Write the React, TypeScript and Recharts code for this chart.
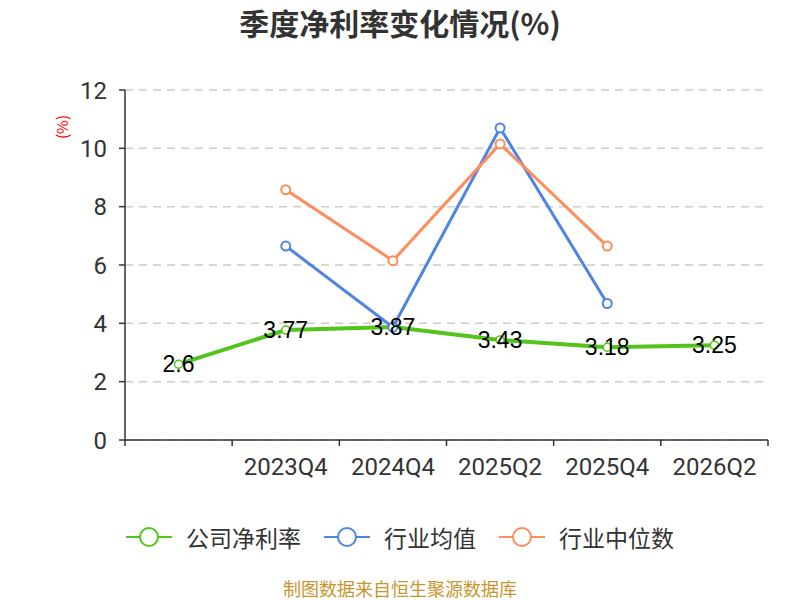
import React from 'react';
import { LineChart, Line, XAxis, YAxis, CartesianGrid, LabelList } from 'recharts';

// quarters (the first one carries no label in the source chart)
const quarters = ['', '2023Q4', '2024Q4', '2025Q2', '2025Q4', '2026Q2'];
const companyRate = [2.6, 3.77, 3.87, 3.43, 3.18, 3.25];
const industryAvg = [null, 6.65, 3.87, 10.7, 4.68, null];
const industryMedian = [null, 8.58, 6.15, 10.15, 6.65, null];
const yTicks = [0, 2, 4, 6, 8, 10, 12];

const GREEN = '#52c41a';
const BLUE = '#4e84e4';
const ORANGE = '#ff8c5a';
const AXIS = '#333';

const PLOT_LEFT = 125;
const PLOT_RIGHT = 768;
const PLOT_TOP = 90;
const PLOT_BOTTOM = 440;
const X_AXIS_H = 30;
const BAND = (PLOT_RIGHT - PLOT_LEFT) / quarters.length;

const data = quarters.map((q, i) => ({
  quarter: q,
  company: companyRate[i],
  avg: industryAvg[i],
  median: industryMedian[i],
}));

const series = [
  { key: 'company', name: '公司净利率', color: GREEN },
  { key: 'avg', name: '行业均值', color: BLUE },
  { key: 'median', name: '行业中位数', color: ORANGE },
];

const QuarterTick = (props: any) => {
  const { x, y, payload, index } = props;
  const left = x - BAND / 2;
  return (
    <g>
      <line x1={left} y1={y} x2={left} y2={y + 6} stroke={AXIS} strokeWidth={1.5} />
      {index === quarters.length - 1 && (
        <line x1={x + BAND / 2} y1={y} x2={x + BAND / 2} y2={y + 6} stroke={AXIS} strokeWidth={1.5} />
      )}
      <text x={x} y={y + 35} textAnchor="middle" fill={AXIS} fontSize={24} fontFamily="Roboto">
        {payload.value}
      </text>
    </g>
  );
};

const pointLabel = (props: any) => {
  const { x, y, value } = props;
  return (
    <text
      x={x}
      y={y}
      textAnchor="middle"
      dominantBaseline="central"
      fill="#000"
      fontSize={23}
      fontFamily="Liberation Sans"
    >
      {value}
    </text>
  );
};

const ChartLegend = () => (
  <div
    style={{
      position: 'absolute',
      top: 525,
      left: 0,
      width: 800,
      display: 'flex',
      justifyContent: 'center',
      alignItems: 'center',
      gap: 23,
    }}
  >
    {series.map((s) => (
      <div key={s.key} style={{ display: 'flex', alignItems: 'center' }}>
        <svg width={46} height={22} style={{ marginRight: 14 }}>
          <line x1={0} y1={11} x2={46} y2={11} stroke={s.color} strokeWidth={2} />
          <circle cx={23} cy={11} r={9} fill="#fff" stroke={s.color} strokeWidth={2} />
        </svg>
        <span style={{ fontSize: 23, color: AXIS, lineHeight: '24px' }}>{s.name}</span>
      </div>
    ))}
  </div>
);

export default function App() {
  return (
    <div
      style={{
        position: 'absolute',
        left: 0,
        top: 0,
        width: 800,
        height: 600,
        background: '#fff',
        fontFamily: 'Noto Sans CJK SC',
      }}
    >
      <div
        style={{
          position: 'absolute',
          top: 2,
          width: 800,
          textAlign: 'center',
          fontSize: 30,
          fontWeight: 700,
          color: AXIS,
          lineHeight: '40px',
        }}
      >
        季度净利率变化情况(%)
      </div>
      <div
        style={{
          position: 'absolute',
          left: 62,
          top: 127,
          transform: 'translate(-50%, -50%) rotate(-90deg)',
          fontSize: 15,
          color: '#ff0000',
          lineHeight: '16px',
          whiteSpace: 'nowrap',
        }}
      >
        (%)
      </div>
      <LineChart
        width={800}
        height={600}
        data={data}
        margin={{ top: PLOT_TOP, right: 800 - PLOT_RIGHT, bottom: 600 - PLOT_BOTTOM - X_AXIS_H, left: 0 }}
      >
        <CartesianGrid vertical={false} stroke="#ccc" strokeDasharray="8 6" strokeWidth={1.5} />
        <XAxis
          dataKey="quarter"
          scale="band"
          height={X_AXIS_H}
          interval={0}
          tickLine={false}
          tickSize={0}
          tickMargin={0}
          axisLine={{ stroke: AXIS, strokeWidth: 1.5 }}
          tick={<QuarterTick />}
        />
        <YAxis
          width={PLOT_LEFT}
          domain={[0, 12]}
          ticks={yTicks}
          interval={0}
          tickSize={6}
          tickMargin={12}
          axisLine={{ stroke: AXIS, strokeWidth: 1.5 }}
          tickLine={{ stroke: AXIS, strokeWidth: 1.5 }}
          tick={{ fill: AXIS, fontSize: 24, fontFamily: 'Roboto' }}
        />
        <Line
          dataKey="company"
          name="公司净利率"
          stroke={GREEN}
          strokeWidth={4}
          dot={{ r: 4, fill: '#fff', stroke: GREEN, strokeWidth: 1.5 }}
          isAnimationActive={false}
        >
          <LabelList dataKey="company" content={pointLabel} />
        </Line>
        <Line
          dataKey="avg"
          name="行业均值"
          stroke={BLUE}
          strokeWidth={3}
          dot={{ r: 4.5, fill: '#fff', stroke: BLUE, strokeWidth: 2 }}
          isAnimationActive={false}
        />
        <Line
          dataKey="median"
          name="行业中位数"
          stroke={ORANGE}
          strokeWidth={3}
          dot={{ r: 4.5, fill: '#fff', stroke: ORANGE, strokeWidth: 2 }}
          isAnimationActive={false}
        />
      </LineChart>
      <ChartLegend />
      <div
        style={{
          position: 'absolute',
          top: 576,
          width: 800,
          textAlign: 'center',
          fontSize: 18,
          color: '#c8962e',
          lineHeight: '24px',
        }}
      >
        制图数据来自恒生聚源数据库
      </div>
    </div>
  );
}
